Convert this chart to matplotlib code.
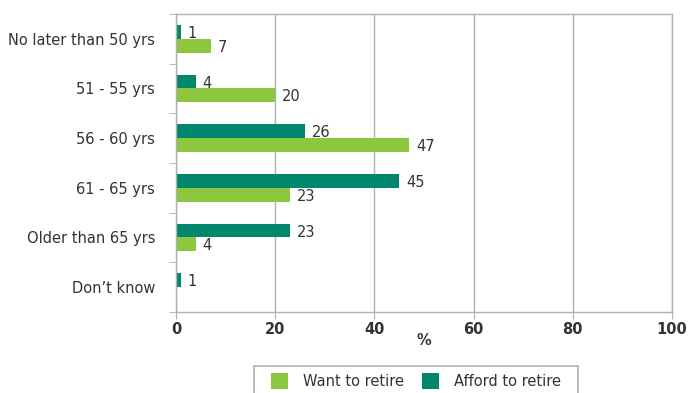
import matplotlib.pyplot as plt
from matplotlib.patches import Rectangle
import numpy as np

categories = ["No later than 50 yrs", "51 - 55 yrs", "56 - 60 yrs",
              "61 - 65 yrs", "Older than 65 yrs", "Don\u2019t know"]
want = [7, 20, 47, 23, 4, 0]
afford = [1, 4, 26, 45, 23, 1]

green = "#8dc63f"
teal = "#00876c"
grey = "#b0b0b0"
txt = "#333333"
fs = 10.5

fig = plt.figure(figsize=(6.89, 3.93), dpi=100)
ax = fig.add_axes([0.2554, 0.2061, 0.7199, 0.7583])

y = np.arange(len(categories))
h = 0.28
ax.barh(y - h / 2, afford, height=h, color=teal, label="Afford to retire")
ax.barh(y + h / 2, want, height=h, color=green, label="Want to retire")

for i in range(len(categories)):
    ax.text(afford[i] + 1.4, y[i] - h / 2 + 0.03, str(afford[i]), va="center",
            ha="left", fontsize=fs, color=txt)
    if want[i] > 0:
        ax.text(want[i] + 1.4, y[i] + h / 2 + 0.03, str(want[i]), va="center",
                ha="left", fontsize=fs, color=txt)

ax.set_xlim(0, 100)
ax.set_ylim(len(categories) - 0.5, -0.5)
ax.set_xticks(np.arange(0, 101, 20))
ax.set_xticklabels([str(v) for v in range(0, 101, 20)], fontweight="bold",
                   fontsize=fs, color=txt)
ax.set_yticks(y)
ax.set_yticklabels(categories, fontsize=fs, color=txt)
ax.set_yticks(np.arange(-0.5, len(categories), 1), minor=True)
ax.tick_params(axis="y", which="major", length=0, pad=15)
ax.tick_params(axis="y", which="minor", length=5, color=grey, direction="out")
ax.tick_params(axis="x", length=5, color=grey, pad=2)
ax.xaxis.grid(True, color=grey, linewidth=1)
ax.set_axisbelow(True)
for s in ax.spines.values():
    s.set_color(grey)
    s.set_linewidth(1)

ax.set_xlabel("%", fontweight="bold", fontsize=fs, color=txt, labelpad=-3)

# legend without its own frame, boxed by a rectangle that runs off the bottom
handles, labels = ax.get_legend_handles_labels()
leg = fig.legend(handles[::-1], labels[::-1], loc="center",
                 bbox_to_anchor=(416 / 689, 1 - 381 / 393), ncol=2,
                 frameon=False, fontsize=fs, handlelength=1.15,
                 handleheight=1.4, columnspacing=1.3, handletextpad=1.0,
                 borderpad=0, borderaxespad=0)
for t in leg.get_texts():
    t.set_color(txt)
fig.patches.append(Rectangle((254 / 689, -0.05), 324 / 689, 0.05 + 27 / 393,
                             transform=fig.transFigure, fill=False,
                             edgecolor=grey, linewidth=1.2))

fig.savefig("out.png", dpi=100)
